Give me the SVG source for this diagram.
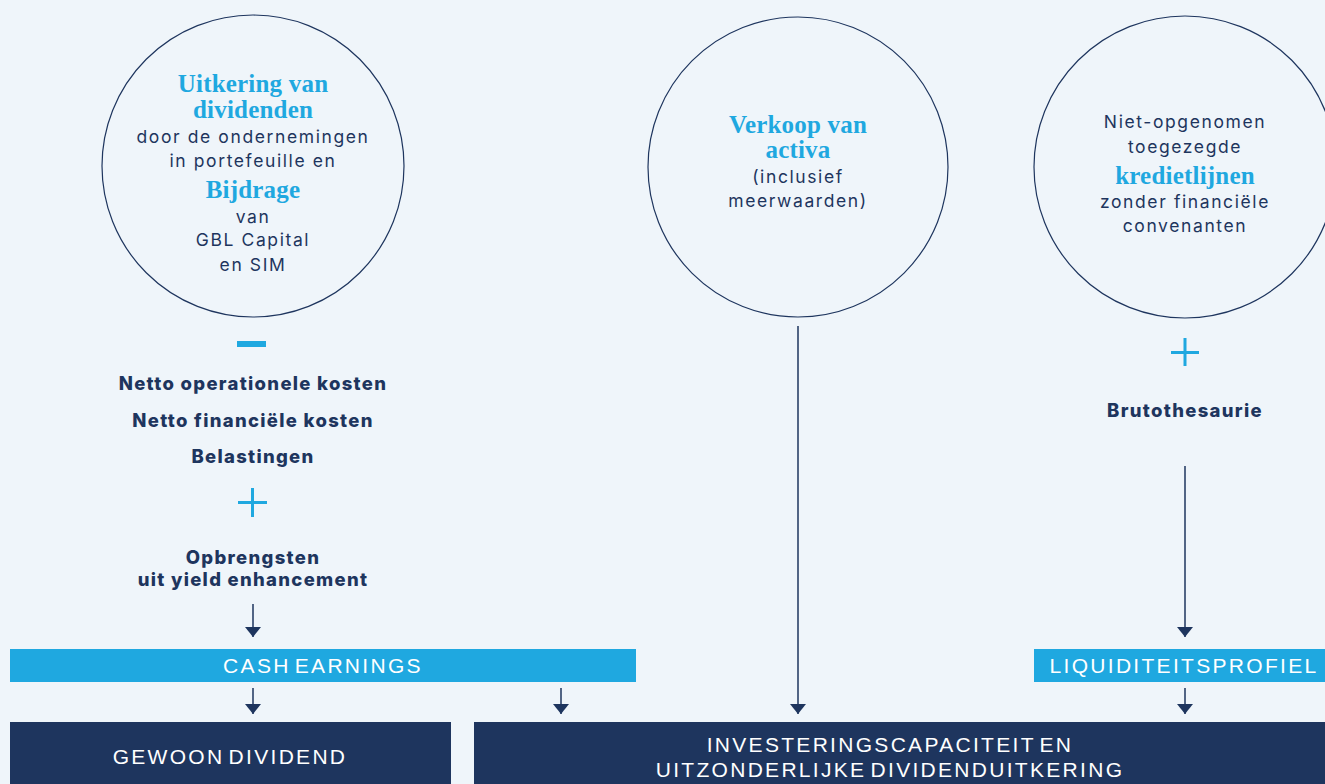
<svg xmlns="http://www.w3.org/2000/svg" width="1325" height="784" viewBox="0 0 1325 784">
<style>
.bg{fill:#eff5fa}
.circ{fill:none;stroke:#1e355e;stroke-width:1.2}
.ser{font-family:"Liberation Serif","DejaVu Serif",serif;font-weight:bold;font-size:25px;fill:#1fa8e0;text-anchor:middle;letter-spacing:0.2px}
.body{font-family:Inter,"Noto Sans",sans-serif;font-size:17.5px;fill:#1e355e;text-anchor:middle;letter-spacing:1.6px}
.bold{font-family:Inter,"Noto Sans",sans-serif;font-weight:800;font-size:18.5px;fill:#1e355e;text-anchor:middle;letter-spacing:1.3px}
.cap{font-family:"Liberation Sans",Arial,sans-serif;font-size:21px;fill:#ffffff;text-anchor:middle;letter-spacing:2.3px;word-spacing:-4px}
.conn{stroke:#1e355e;stroke-width:1.5;fill:none}
.sign{fill:#1fa8e0}
.lb{fill:#1fa8e0}
.nv{fill:#1e355e}
</style>
<defs>
<marker id="ah" viewBox="0 0 10 16" refX="10" refY="8" markerWidth="10" markerHeight="16" markerUnits="userSpaceOnUse" orient="auto">
<path d="M0,0 L10,8 L0,16 Z" fill="#1e355e"/>
</marker>
</defs>
<rect class="bg" x="0" y="0" width="1325" height="784"/>

<g id="node-dividenden">
<circle class="circ" cx="253" cy="166" r="151"/>
<text class="ser" x="253" y="92">Uitkering van</text>
<text class="ser" x="253" y="118">dividenden</text>
<text class="body" x="253" y="143">door de ondernemingen</text>
<text class="body" x="253" y="167">in portefeuille en</text>
<text class="ser" x="253" y="198">Bijdrage</text>
<text class="body" x="253" y="223">van</text>
<text class="body" x="253" y="246">GBL Capital</text>
<text class="body" x="253" y="271">en SIM</text>
</g>

<g id="node-verkoop">
<circle class="circ" cx="798" cy="167" r="150"/>
<text class="ser" x="798" y="133">Verkoop van</text>
<text class="ser" x="798" y="158">activa</text>
<text class="body" x="798" y="183">(inclusief</text>
<text class="body" x="798" y="207">meerwaarden)</text>
</g>

<g id="node-krediet">
<circle class="circ" cx="1185" cy="167" r="151"/>
<text class="body" x="1185" y="128">Niet-opgenomen</text>
<text class="body" x="1185" y="153">toegezegde</text>
<text class="ser" x="1185" y="184">kredietlijnen</text>
<text class="body" x="1185" y="208">zonder financiële</text>
<text class="body" x="1185" y="232">convenanten</text>
</g>

<g id="node-kosten">
<rect class="sign" x="237" y="341" width="29" height="6"/>
<text class="bold" x="253" y="390">Netto operationele kosten</text>
<text class="bold" x="253" y="427">Netto financiële kosten</text>
<text class="bold" x="253" y="463">Belastingen</text>
<rect class="sign" x="238" y="501" width="29" height="3"/>
<rect class="sign" x="251" y="488" width="3" height="29"/>
<text class="bold" x="253" y="564">Opbrengsten</text>
<text class="bold" x="253" y="586">uit yield enhancement</text>
</g>

<g id="node-bruto">
<rect class="sign" x="1171" y="351" width="28" height="3"/>
<rect class="sign" x="1183.5" y="338" width="3" height="28"/>
<text class="bold" x="1185" y="417">Brutothesaurie</text>
</g>

<g id="node-cash">
<rect class="lb" x="10" y="649" width="626" height="33"/>
<text class="cap" x="323" y="673">CASH EARNINGS</text>
</g>

<g id="node-liquiditeit">
<rect class="lb" x="1034" y="649" width="291" height="33"/>
<text class="cap" x="1184" y="673">LIQUIDITEITSPROFIEL</text>
</g>

<g id="node-gewoon">
<rect class="nv" x="10" y="722" width="441" height="62"/>
<text class="cap" x="230" y="764">GEWOON DIVIDEND</text>
</g>

<g id="node-investering">
<rect class="nv" x="474" y="722" width="851" height="62"/>
<text class="cap" x="890" y="752">INVESTERINGSCAPACITEIT EN</text>
<text class="cap" x="890" y="777">UITZONDERLIJKE DIVIDENDUITKERING</text>
</g>

<g id="connectors">
<line class="conn" x1="253" y1="604" x2="253" y2="637" marker-end="url(#ah)"/>
<line class="conn" x1="253" y1="688" x2="253" y2="714" marker-end="url(#ah)"/>
<line class="conn" x1="561" y1="688" x2="561" y2="714" marker-end="url(#ah)"/>
<line class="conn" x1="798" y1="326" x2="798" y2="714" marker-end="url(#ah)"/>
<line class="conn" x1="1185" y1="466" x2="1185" y2="637" marker-end="url(#ah)"/>
<line class="conn" x1="1185" y1="688" x2="1185" y2="714" marker-end="url(#ah)"/>
</g>
</svg>
